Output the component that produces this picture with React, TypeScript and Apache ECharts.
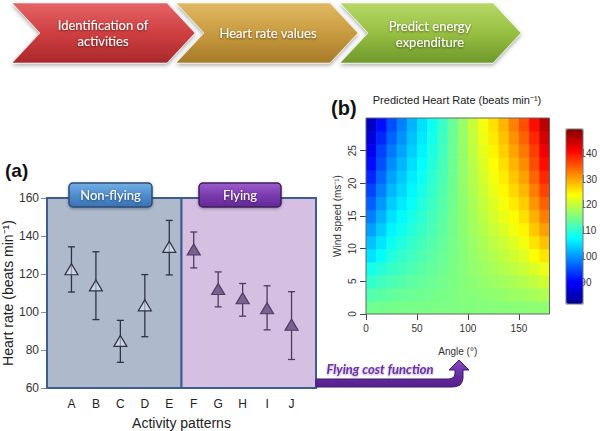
import React, { useEffect, useRef } from "react";
import * as echarts from "echarts";

// ---------- Panel (a) data ----------
const activities = ["A", "B", "C", "D", "E", "F", "G", "H", "I", "J"];
const meanHR = [122.5, 114, 84.8, 103.5, 134.3, 132.9, 112.1, 107.2, 102, 93.3];
const lowerHR = [110.5, 96, 73.5, 87, 119.5, 123.2, 102.7, 97.8, 90.6, 75];
const upperHR = [134.3, 131.7, 95.6, 119.7, 148.2, 142.1, 121.1, 115, 113.8, 110.7];
const nonFlyingCount = 5;
const regionBounds = [0, 5.5, 11];
const hrTicks = [60, 80, 100, 120, 140, 160];

// ---------- Panel (b) data ----------
const angleCenters = [5, 15, 25, 35, 45, 55, 65, 75, 85, 95, 105, 115, 125, 135, 145, 155, 165, 175];
const windCenters = [1, 3, 5, 7, 9, 11, 13, 15, 17, 19, 21, 23, 25, 27, 29];
const heartRateGrid = [
  [114.5, 114.6, 114.8, 114.9, 115.0, 115.1, 115.2, 115.3, 115.4, 115.6, 115.7, 115.8, 115.9, 116.0, 116.1, 116.2, 116.4, 116.5],
  [112.4, 113.0, 113.4, 113.8, 114.1, 114.4, 114.7, 115.0, 115.3, 115.7, 116.0, 116.3, 116.6, 116.9, 117.3, 117.6, 118.1, 118.6],
  [110.3, 111.3, 112.0, 112.6, 113.2, 113.7, 114.2, 114.7, 115.2, 115.8, 116.3, 116.8, 117.3, 117.8, 118.4, 119.0, 119.8, 120.7],
  [108.3, 109.6, 110.6, 111.4, 112.2, 112.9, 113.6, 114.3, 115.1, 115.9, 116.7, 117.4, 118.1, 118.8, 119.6, 120.4, 121.5, 122.7],
  [105.2, 107.2, 109.2, 110.3, 111.3, 112.2, 113.1, 114.0, 115.0, 116.0, 117.0, 117.9, 118.8, 119.7, 120.8, 121.8, 123.9, 125.8],
  [102.9, 105.3, 107.8, 109.1, 110.4, 111.5, 112.6, 113.7, 114.9, 116.1, 117.3, 118.4, 119.5, 120.6, 121.9, 123.2, 125.8, 128.1],
  [100.7, 103.5, 106.4, 107.9, 109.4, 110.7, 112.0, 113.3, 114.8, 116.2, 117.7, 119.0, 120.3, 121.6, 123.1, 124.6, 127.6, 130.3],
  [98.5, 101.8, 105.0, 106.8, 108.5, 110.0, 111.5, 113.0, 114.7, 116.4, 118.0, 119.5, 121.0, 122.5, 124.3, 126.0, 129.3, 132.5],
  [96.4, 100.1, 103.6, 105.6, 107.6, 109.3, 111.0, 112.7, 114.5, 116.5, 118.3, 120.0, 121.7, 123.4, 125.4, 127.4, 131.0, 134.6],
  [94.5, 98.5, 102.2, 104.4, 106.6, 108.5, 110.4, 112.3, 114.4, 116.6, 118.7, 120.6, 122.5, 124.4, 126.6, 128.8, 132.6, 136.5],
  [92.6, 96.9, 100.8, 103.3, 105.7, 107.8, 109.9, 112.0, 114.3, 116.7, 119.0, 121.1, 123.2, 125.3, 127.8, 130.2, 134.2, 138.4],
  [90.7, 95.3, 99.4, 102.1, 104.8, 107.1, 109.4, 111.7, 114.2, 116.8, 119.3, 121.6, 123.9, 126.2, 128.9, 131.6, 135.8, 140.3],
  [89.0, 94.3, 98.0, 100.9, 103.8, 106.3, 108.8, 111.3, 114.1, 116.9, 119.7, 122.2, 124.7, 127.2, 130.1, 133.0, 136.8, 142.0],
  [87.2, 92.6, 96.6, 99.8, 102.9, 105.6, 108.3, 111.0, 114.0, 117.0, 120.0, 122.7, 125.4, 128.1, 131.3, 134.4, 138.5, 143.8],
  [85.5, 90.9, 95.2, 98.6, 102.0, 104.9, 107.8, 110.7, 113.9, 117.1, 120.3, 123.2, 126.1, 129.0, 132.4, 135.8, 140.2, 145.5],
];
const angleTicks = [0, 50, 100, 150];
const windTicks = [0, 5, 10, 15, 20, 25];
const colorbarTicks = [90, 100, 110, 120, 130, 140];
const colorbarRange = [81.5, 149.5];

const FONT = "Liberation Sans";
const CAL = "Lato";

function lg(stops: string[]) {
  return new echarts.graphic.LinearGradient(
    0, 0, 0, 1,
    stops.map((c, i) => ({ offset: i / (stops.length - 1), color: c }))
  );
}

function chevron(x0: number, x1: number, fillStops: string[]) {
  const d = 28;
  const top = 3, bot = 63, mid = 33;
  return {
    type: "polygon",
    shape: {
      points: [
        [x0, top], [x1, top], [x1 + d, mid], [x1, bot], [x0, bot], [x0 + d, mid],
      ],
    },
    style: {
      fill: lg(fillStops),
      stroke: "rgba(255,255,255,0.55)",
      lineWidth: 1,
      shadowBlur: 4,
      shadowColor: "rgba(0,0,0,0.35)",
      shadowOffsetY: 2,
    },
    z: 10,
  };
}

function chevText(x: number, y: number, text: string) {
  return {
    type: "text",
    x, y,
    style: {
      text,
      fill: "#ffffff",
      font: `13px ${CAL}`,
      align: "center",
      verticalAlign: "middle",
      textShadowColor: "rgba(0,0,0,0.55)",
      textShadowBlur: 2,
      textShadowOffsetY: 1,
      lineHeight: 16,
    },
    z: 11,
  };
}

export default function App() {
  const ref = useRef<HTMLDivElement>(null);

  useEffect(() => {
    if (!ref.current) return;
    const chart = echarts.init(ref.current, null, { renderer: "svg" });

    const errData = activities.map((_, i) => [i + 1, lowerHR[i], upperHR[i]]);
    const nonFlyData = activities.slice(0, nonFlyingCount).map((_, i) => [i + 1, meanHR[i]]);
    const flyData = activities.slice(nonFlyingCount).map((_, j) => [j + nonFlyingCount + 1, meanHR[j + nonFlyingCount]]);

    const heatData: number[][] = [];
    windCenters.forEach((w, r) => {
      angleCenters.forEach((a, c) => heatData.push([a, w, heartRateGrid[r][c]]));
    });
    const halfA = (angleCenters[1] - angleCenters[0]) / 2;
    const halfW = (windCenters[1] - windCenters[0]) / 2;

    const jet = ["#00008F", "#0000FF", "#0080FF", "#00FFFF", "#80FF80", "#FFFF00", "#FF8000", "#FF0000", "#800000"];

    const option: any = {
      animation: false,
      textStyle: { fontFamily: FONT },
      grid: [
        { left: 47, right: 284, top: 198, bottom: 41 },
        { left: 366, top: 118, width: 183.5, height: 196 },
        { left: 566, top: 129, width: 17, height: 175 },
      ],
      xAxis: [
        {
          gridIndex: 0, type: "value", min: 0, max: 11, interval: 1,
          axisLine: { show: false }, axisTick: { show: false }, splitLine: { show: false },
          axisLabel: {
            color: "#222", fontSize: 12, margin: 10,
            formatter: (v: number) => activities[v - 1] ?? "",
          },
          name: "Activity patterns", nameLocation: "middle", nameGap: 28,
          nameTextStyle: { fontSize: 14, color: "#222" },
        },
        {
          gridIndex: 1, type: "value", min: 0, max: 180,
          axisLine: { show: false }, splitLine: { show: false },
          axisTick: { show: true, length: 6, customValues: angleTicks, lineStyle: { color: "#444" } },
          axisLabel: { customValues: angleTicks, fontSize: 10, color: "#333", margin: 9 },
          name: "Angle (°)", nameLocation: "middle", nameGap: 32,
          nameTextStyle: { fontSize: 10, color: "#333" },
        },
        { gridIndex: 2, type: "value", show: false, min: 0, max: 1 },
      ],
      yAxis: [
        {
          gridIndex: 0, type: "value", min: 60, max: 160, interval: 20,
          axisLine: { show: false }, splitLine: { show: false },
          axisTick: { show: true, length: 6, lineStyle: { color: "#8a8a8a" } },
          axisLabel: { color: "#333", fontSize: 12, margin: 8 },
          name: "Heart rate (beats min⁻¹)", nameLocation: "middle", nameGap: 30,
          nameTextStyle: { fontSize: 14, color: "#222" },
        },
        {
          gridIndex: 1, type: "value", min: 0, max: 30,
          axisLine: { show: false }, splitLine: { show: false },
          axisTick: { show: true, length: 6, customValues: windTicks, lineStyle: { color: "#444" } },
          axisLabel: { customValues: windTicks, fontSize: 10, color: "#333", rotate: 90, margin: 9 },
          name: "Wind speed (ms⁻¹)", nameLocation: "middle", nameGap: 24,
          nameTextStyle: { fontSize: 10, color: "#333" },
        },
        {
          gridIndex: 2, type: "value", position: "right",
          min: colorbarRange[0], max: colorbarRange[1],
          axisLine: { show: false }, splitLine: { show: false },
          axisTick: { show: true, length: 5, customValues: colorbarTicks, lineStyle: { color: "#444" } },
          axisLabel: { customValues: colorbarTicks, fontSize: 10, color: "#333", margin: 7 },
        },
      ],
      visualMap: {
        type: "continuous",
        min: colorbarRange[0], max: colorbarRange[1],
        dimension: 2, seriesIndex: 3,
        left: 566, top: 129, itemWidth: 17, itemHeight: 175, padding: 0,
        calculable: false, showLabel: false,
        inRange: { color: jet },
      },
      series: [
        {
          type: "custom", xAxisIndex: 0, yAxisIndex: 0, z: 3,
          data: errData,
          renderItem: (params: any, api: any) => {
            const x = api.value(0);
            const lo = api.coord([x, api.value(1)]);
            const hi = api.coord([x, api.value(2)]);
            const color = params.dataIndex < nonFlyingCount ? "#2f3348" : "#4b3c5e";
            const cap = 3.5;
            const st = { stroke: color, lineWidth: 1.3 };
            return {
              type: "group",
              children: [
                { type: "line", shape: { x1: hi[0], y1: hi[1], x2: lo[0], y2: lo[1] }, style: st },
                { type: "line", shape: { x1: hi[0] - cap, y1: hi[1], x2: hi[0] + cap, y2: hi[1] }, style: st },
                { type: "line", shape: { x1: lo[0] - cap, y1: lo[1], x2: lo[0] + cap, y2: lo[1] }, style: st },
              ],
            };
          },
        },
        {
          type: "scatter", xAxisIndex: 0, yAxisIndex: 0, z: 4,
          symbol: "triangle", symbolSize: [13, 11],
          data: nonFlyData,
          itemStyle: { color: "rgba(235,238,245,0.55)", borderColor: "#2f3348", borderWidth: 1.2, opacity: 1 },
          markArea: {
            silent: true,
            data: [
              [
                { xAxis: regionBounds[0], yAxis: hrTicks[0], itemStyle: { color: "#aeb9cc", borderColor: "#3b5d8f", borderWidth: 2 } },
                { xAxis: regionBounds[1], yAxis: hrTicks[hrTicks.length - 1] },
              ],
              [
                { xAxis: regionBounds[1], yAxis: hrTicks[0], itemStyle: { color: "#d6c0e2", borderColor: "#3b5d8f", borderWidth: 2 } },
                { xAxis: regionBounds[2], yAxis: hrTicks[hrTicks.length - 1] },
              ],
            ],
          },
        },
        {
          type: "scatter", xAxisIndex: 0, yAxisIndex: 0, z: 4,
          symbol: "triangle", symbolSize: [13, 11],
          data: flyData,
          itemStyle: { color: "#7a6190", borderColor: "#4f3d63", borderWidth: 1.2, opacity: 1 },
        },
        {
          type: "custom", xAxisIndex: 1, yAxisIndex: 1, clip: true,
          data: heatData,
          renderItem: (params: any, api: any) => {
            const a = api.value(0), w = api.value(1);
            const p0 = api.coord([a - halfA, w + halfW]);
            const p1 = api.coord([a + halfA, w - halfW]);
            return {
              type: "rect",
              shape: { x: p0[0], y: p0[1], width: p1[0] - p0[0] + 0.6, height: p1[1] - p0[1] + 0.6 },
              style: { fill: api.visual("color") },
            };
          },
        },
      ],
      graphic: [
        chevron(12, 167, ["#e46466", "#cf3f41", "#a9292b"]),
        chevron(176, 330, ["#e0b862", "#c99b40", "#a67b28"]),
        chevron(340, 493, ["#b6d866", "#97bf42", "#6e982a"]),
        chevText(103, 33, "Identification of\nactivities"),
        chevText(268, 33, "Heart rate values"),
        chevText(430, 34, "Predict energy\nexpenditure"),
        // panel labels
        { type: "text", x: 5, y: 170, style: { text: "(a)", font: `bold 19px ${FONT}`, fill: "#111", verticalAlign: "middle" }, z: 20 },
        { type: "text", x: 331, y: 108, style: { text: "(b)", font: `bold 20px ${FONT}`, fill: "#111", verticalAlign: "middle" }, z: 20 },
        { type: "text", x: 457, y: 100, style: { text: "Predicted Heart Rate (beats min⁻¹)", font: `11px ${FONT}`, fill: "#222", align: "center", verticalAlign: "middle" }, z: 20 },
        // heatmap frame & colorbar frame
        { type: "rect", shape: { x: 366, y: 118, width: 183.5, height: 196 }, style: { fill: "none", stroke: "#666", lineWidth: 1 }, z: 20 },
        { type: "rect", shape: { x: 566, y: 129, width: 17, height: 175 }, style: { fill: "none", stroke: "#777", lineWidth: 1 }, z: 20 },
        // category buttons
        {
          type: "rect", shape: { x: 69, y: 183, width: 83, height: 24, r: 4 },
          style: { fill: lg(["#74aee4", "#4f8dcf", "#3a72b4"]), stroke: "#2c4b74", lineWidth: 1.5, shadowBlur: 3, shadowColor: "rgba(0,0,0,0.35)", shadowOffsetY: 1 }, z: 20,
        },
        { type: "text", x: 110.5, y: 195, style: { text: "Non-flying", font: `13px ${CAL}`, fill: "#fff", align: "center", verticalAlign: "middle", textShadowColor: "rgba(0,0,0,0.5)", textShadowBlur: 2, textShadowOffsetY: 1 }, z: 21 },
        {
          type: "rect", shape: { x: 199, y: 183, width: 82, height: 24, r: 4 },
          style: { fill: lg(["#9c5ccd", "#7b3bb0", "#652895"]), stroke: "#3e1f5e", lineWidth: 1.5, shadowBlur: 3, shadowColor: "rgba(0,0,0,0.35)", shadowOffsetY: 1 }, z: 20,
        },
        { type: "text", x: 240, y: 195, style: { text: "Flying", font: `13px ${CAL}`, fill: "#fff", align: "center", verticalAlign: "middle", textShadowColor: "rgba(0,0,0,0.5)", textShadowBlur: 2, textShadowOffsetY: 1 }, z: 21 },
        // flying cost function arrow
        {
          type: "polygon",
          shape: {
            points: [
              [316, 379], [449, 379], [452, 378.2], [454.2, 376.6], [455, 374], [455, 370],
              [449, 370], [459, 360], [469, 370], [463, 370], [463, 378],
              [462, 382], [460, 385], [456, 386.6], [452, 387], [316, 387],
            ],
          },
          style: { fill: lg(["#8a4cc6", "#6a2fa5", "#55208a"]), stroke: "#3d1a6a", lineWidth: 1 },
          z: 20,
        },
        {
          type: "text", x: 380, y: 369,
          style: {
            text: "Flying cost function", font: `italic bold 13px ${CAL}`, fill: "#6a34a6",
            align: "center", verticalAlign: "middle",
            textShadowColor: "rgba(120,80,170,0.6)", textShadowBlur: 2, textShadowOffsetY: 1,
          },
          z: 21,
        },
      ],
    };

    chart.setOption(option);
    return () => chart.dispose();
  }, []);

  return (
    <div
      ref={ref}
      style={{ position: "fixed", left: 0, top: 0, width: 600, height: 431, background: "#fff" }}
    />
  );
}
